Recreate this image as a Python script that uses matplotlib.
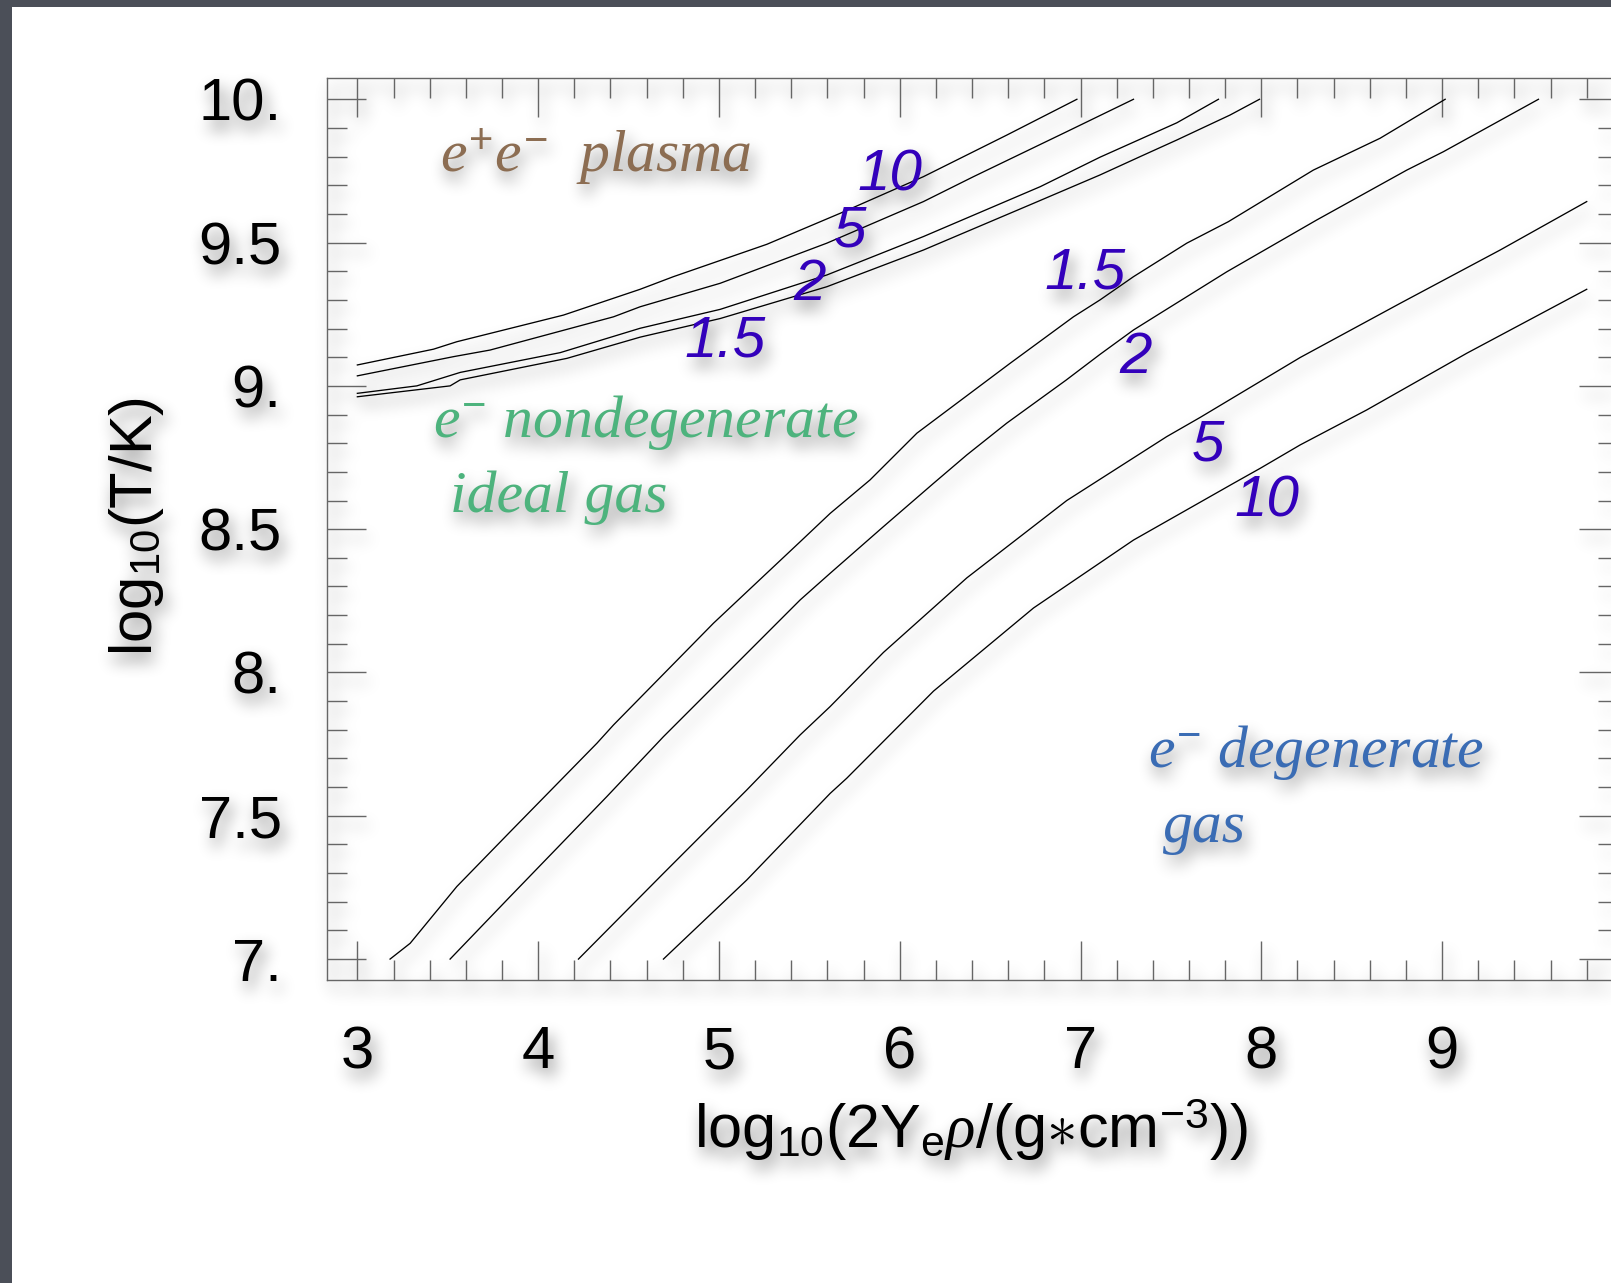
import numpy as np
import matplotlib
matplotlib.use("Agg")
import matplotlib.pyplot as plt
from matplotlib.ticker import MultipleLocator, FixedLocator, FixedFormatter
from matplotlib.patches import Rectangle

plt.rcParams['font.family'] = ['Liberation Sans', 'DejaVu Sans']
plt.rcParams['mathtext.fontset'] = 'custom'
plt.rcParams['mathtext.rm'] = 'Liberation Sans'
plt.rcParams['mathtext.it'] = 'Liberation Serif:italic'
plt.rcParams['mathtext.bf'] = 'Liberation Sans:bold'

# pair-plasma boundary curves (upper left), labelled 10, 5, 2, 1.5
pair_10_x = [3.0, 3.421, 3.55, 4.14, 4.564, 4.748, 5.265, 5.67, 6.131, 6.592, 6.98]
pair_10_y = [9.073, 9.128, 9.154, 9.247, 9.337, 9.381, 9.494, 9.602, 9.730, 9.875, 10.0]
pair_5_x = [3.0, 3.532, 3.734, 4.417, 4.564, 5.007, 5.597, 6.131, 6.408, 6.924, 7.293]
pair_5_y = [9.035, 9.102, 9.125, 9.241, 9.276, 9.358, 9.498, 9.643, 9.73, 9.887, 10.0]
pair_2_x = [3.0, 3.329, 3.569, 4.122, 4.564, 5.007, 5.597, 6.131, 6.777, 7.108, 7.533, 7.763]
pair_2_y = [8.974, 9.0, 9.047, 9.116, 9.201, 9.267, 9.387, 9.521, 9.695, 9.798, 9.918, 10.0]
pair_15_x = [3.0, 3.513, 3.569, 4.159, 4.564, 5.007, 5.597, 6.131, 6.74, 7.108, 7.33, 7.533, 7.827, 7.99]
pair_15_y = [8.962, 9.0, 9.021, 9.096, 9.170, 9.235, 9.346, 9.474, 9.637, 9.736, 9.80, 9.858, 9.945, 10.0]

# degeneracy curves (steep), labelled 1.5, 2, 5, 10
degen_15_x = [3.181, 3.292, 3.55, 3.845, 4.325, 4.417, 4.97, 5.449, 5.615, 5.836, 6.095,
              6.611, 6.961, 7.108, 7.293, 7.588, 7.818, 8.288, 8.657, 9.017]
degen_15_y = [7.0, 7.055, 7.253, 7.444, 7.753, 7.817, 8.172, 8.456, 8.555, 8.672, 8.835,
              9.079, 9.241, 9.30, 9.381, 9.498, 9.573, 9.753, 9.864, 10.0]
degen_2_x = [3.513, 3.845, 4.38, 4.693, 5.449, 5.615, 5.91, 6.187, 6.371, 6.592, 6.92,
             7.108, 7.293, 7.44, 7.809, 8.307, 8.805, 9.007, 9.533]
degen_2_y = [7.0, 7.218, 7.567, 7.776, 8.253, 8.346, 8.509, 8.66, 8.759, 8.87, 9.02,
             9.11, 9.195, 9.253, 9.398, 9.579, 9.753, 9.817, 10.0]
degen_5_x = [4.223, 4.693, 5.154, 5.449, 5.615, 5.91, 6.371, 6.924, 7.477, 7.662, 8.215,
             8.768, 9.321, 9.80]
degen_5_y = [7.0, 7.299, 7.59, 7.782, 7.881, 8.07, 8.33, 8.6, 8.823, 8.89, 9.099,
             9.288, 9.474, 9.643]
degen_10_x = [4.693, 5.154, 5.615, 5.707, 6.187, 6.74, 7.293, 7.846, 7.993, 8.215, 8.583,
              9.137, 9.80]
degen_10_y = [7.0, 7.276, 7.578, 7.631, 7.935, 8.225, 8.462, 8.66, 8.712, 8.794, 8.916,
              9.114, 9.337]

curves = [(pair_10_x, pair_10_y), (pair_5_x, pair_5_y), (pair_2_x, pair_2_y),
          (pair_15_x, pair_15_y), (degen_15_x, degen_15_y), (degen_2_x, degen_2_y),
          (degen_5_x, degen_5_y), (degen_10_x, degen_10_y)]

# curve labels: text, x, y (baseline)
curve_labels = ['10', '5', '2', '1.5', '1.5', '2', '5', '10']
curve_label_x = [5.946, 5.725, 5.504, 5.034, 7.025, 7.302, 7.707, 8.030]
curve_label_y = [9.683, 9.486, 9.300, 9.102, 9.341, 9.044, 8.741, 8.544]

x_ticks = [3, 4, 5, 6, 7, 8, 9]
x_ticklabels = ['3', '4', '5', '6', '7', '8', '9']
y_ticks = [7.0, 7.5, 8.0, 8.5, 9.0, 9.5, 10.0]
y_ticklabels = ['7.', '7.5', '8.', '8.5', '9.', '9.5', '10.']


def _box(a, r):
    # moving average of width 2r+1 along both image axes
    k = 2 * r + 1
    for axis in (0, 1):
        a = np.moveaxis(a, axis, 0)
        p = np.pad(a, ((r + 1, r), (0, 0)))
        c = np.cumsum(p, axis=0)
        a = (c[k:] - c[:-k]) / k
        a = np.moveaxis(a, 0, axis)
    return a


def drop_shadow(im, dpi, r=7, dx=4, dy=9, strength=0.5):
    pad = 3 * r + 3 + max(dx, dy)
    src = np.pad(im, ((pad, pad), (pad, pad), (0, 0)))
    a = src[..., 3]
    s = a
    for _ in range(3):
        s = _box(s, r)
    s = np.roll(np.roll(s, dy, axis=0), dx, axis=1) * strength
    out = np.empty_like(src)
    out_a = a + s * (1 - a)
    safe = np.where(out_a > 0, out_a, 1.0)
    for c in range(3):
        out[..., c] = src[..., c] * a / safe
    out[..., 3] = out_a
    return out, -pad, -pad


W, H = 1611, 1283
fig = plt.figure(figsize=(W / 100, H / 100), dpi=100)
fig.patch.set_facecolor('white')

# frame around the slide
border = '#4b4f58'
fig.add_artist(Rectangle((0, 1 - 7 / H), 1, 7 / H, transform=fig.transFigure,
                         facecolor=border, edgecolor='none'))
fig.add_artist(Rectangle((0, 0), 12 / W, 1, transform=fig.transFigure,
                         facecolor=border, edgecolor='none'))

left, right, bottom, top = 326.8 / W, 1618 / W, 1 - 980 / H, 1 - 77.5 / H
ax = fig.add_axes([left, bottom, right - left, top - bottom])
ax.patch.set_visible(False)

for xs, ys in curves:
    ax.plot(xs, ys, color='black', lw=0.95, solid_joinstyle='round')

ax.set_xlim(2.831, 9.973)
ax.set_ylim(6.927, 10.076)

axis_gray = '#666666'
for sp in ax.spines.values():
    sp.set_color(axis_gray)
    sp.set_linewidth(1.0)

ax.xaxis.set_major_locator(FixedLocator(x_ticks))
ax.xaxis.set_major_formatter(FixedFormatter(x_ticklabels))
ax.yaxis.set_major_locator(FixedLocator(y_ticks))
ax.yaxis.set_major_formatter(FixedFormatter(y_ticklabels))
ax.xaxis.set_minor_locator(MultipleLocator(0.2))
ax.yaxis.set_minor_locator(MultipleLocator(0.1))
ax.tick_params(which='both', direction='in', top=True, right=True,
               color=axis_gray, width=1.0)
ax.tick_params(which='major', length=28)
ax.tick_params(which='minor', length=14.4)
ax.tick_params(axis='x', which='major', labelsize=43, pad=32.5)
ax.tick_params(axis='y', which='major', labelsize=43, pad=32.5)

ax.set_xlabel(r'log$_{10}$(2Y$_{\rm e}\rho$/(g$\ast$cm$^{-3}$))', fontsize=44)
ax.xaxis.label.set_verticalalignment('baseline')
ax.xaxis.set_label_coords(0.499, -0.186)
ax.set_ylabel(r'log$_{10}$(T/K)', fontsize=43)
ax.yaxis.label.set_verticalalignment('baseline')
ax.yaxis.set_label_coords(-0.1354, 0.5025)

number_color = '#3300bb'
for txt, lx, ly in zip(curve_labels, curve_label_x, curve_label_y):
    ax.text(lx, ly, txt, color=number_color, fontsize=42, style='italic',
            ha='center', va='baseline')

serif = ['Liberation Serif', 'DejaVu Serif']
ax.text(3.458, 9.743, r'$e^{+}e^{-}$  plasma', color='#8c6d52', fontsize=43,
        family=serif, style='italic', ha='left', va='baseline')
ax.text(3.419, 8.823, r'$e^{-}$ nondegenerate', color='#4db37d', fontsize=43,
        family=serif, style='italic', ha='left', va='baseline')
ax.text(3.513, 8.561, 'ideal gas', color='#4db37d', fontsize=43,
        family=serif, style='italic', ha='left', va='baseline')
ax.text(7.373, 7.671, r'$e^{-}$ degenerate', color='#3a6cb4', fontsize=43,
        family=serif, style='italic', ha='left', va='baseline')
ax.text(7.456, 7.410, 'gas', color='#3a6cb4', fontsize=43,
        family=serif, style='italic', ha='left', va='baseline')

# soft drop shadow under everything drawn in the axes
ax.set_agg_filter(drop_shadow)

fig.savefig('out.png', dpi=100)
